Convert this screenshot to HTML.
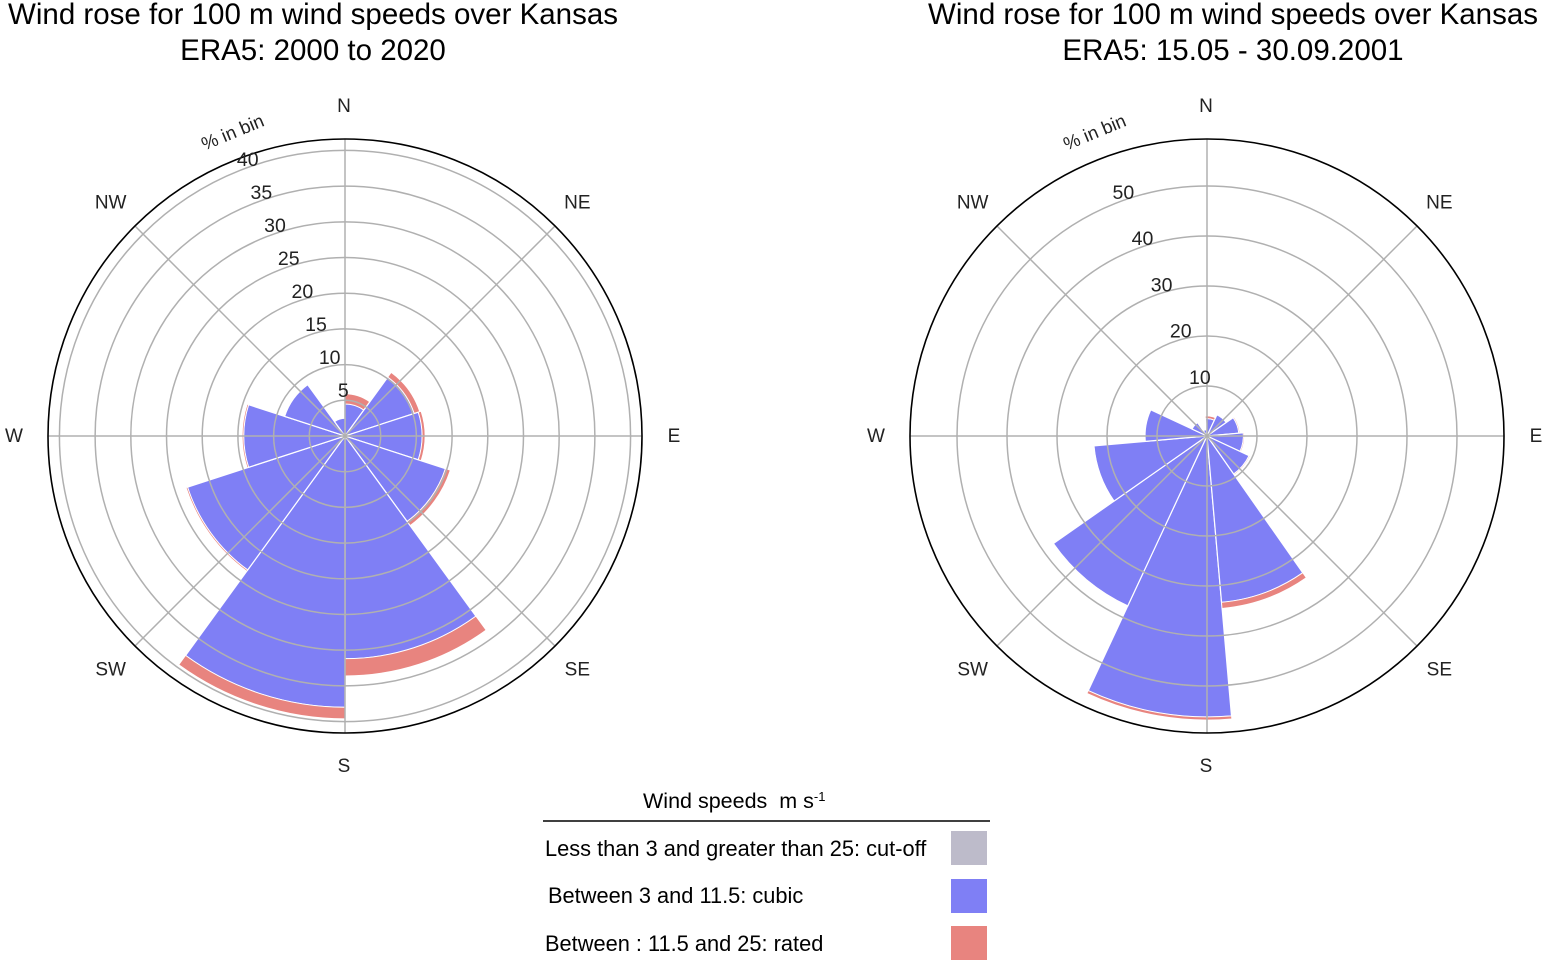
<!DOCTYPE html>
<html><head><meta charset="utf-8"><style>
html,body{margin:0;padding:0;background:#fff;}
svg{display:block;font-family:"Liberation Sans",sans-serif;}
</style></head><body>
<svg id="fig" width="1544" height="968" viewBox="0 0 1544 968">
<text x="313" y="24" font-size="29.5" text-anchor="middle">Wind rose for 100 m wind speeds over Kansas</text>
<text x="313" y="60" font-size="29.5" text-anchor="middle">ERA5: 2000 to 2020</text>
<text x="1233" y="24" font-size="29.5" text-anchor="middle">Wind rose for 100 m wind speeds over Kansas</text>
<text x="1233" y="60" font-size="29.5" text-anchor="middle">ERA5: 15.05 - 30.09.2001</text>
<g id="left"></g>
<g id="right"></g>
<g>
<text x="643" y="808" font-size="21.5">Wind speeds&#160; m s<tspan font-size="13" dy="-7">-1</tspan></text>
<line x1="543" y1="821" x2="990" y2="821" stroke="#000" stroke-width="1.5"/>
<text x="545" y="856" font-size="21.8">Less than 3 and greater than 25: cut-off</text>
<rect x="951" y="831" width="36" height="34" fill="#bdbbca"/>
<text x="548" y="903" font-size="21.8">Between 3 and 11.5: cubic</text>
<rect x="951" y="879" width="36" height="34" fill="#7f7ff5"/>
<text x="545" y="951" font-size="21.8">Between : 11.5 and 25: rated</text>
<rect x="951" y="926" width="36" height="34" fill="#e8847f"/>
</g>
</svg>
<script>
// Left chart data (10 bins, 36 deg, edges starting at 0 deg)
const leftBinStart = [0, 36, 72, 108, 144, 180, 216, 252, 288, 324];
const leftCutoff = [0.3, 0.3, 0.3, 0.3, 0.4, 0.4, 0.3, 0.3, 0.3, 0.3];
const leftCubic = [4.2, 9.9, 10.5, 14.5, 30.8, 37.6, 22.9, 13.9, 8.6, 2.2];
const leftRated = [1.4, 0.8, 0.4, 0.7, 2.4, 1.6, 0.2, 0.2, 0.1, 0.0];
const leftTicks = [5, 10, 15, 20, 25, 30, 35, 40];
const leftRmax = 41.6;
// Right chart data (12 bins, 30 deg, edges starting at 175 deg)
const rightBinStart = [175, 205, 235, 265, 295, 325, 355, 25, 55, 85, 115, 145];
const rightCutoff = [0.5, 0.4, 0.4, 0.3, 0.3, 0.3, 0.3, 0.3, 0.3, 0.3, 0.3, 0.4];
const rightCubic = [55.7, 37.1, 22.3, 12.1, 3.0, 1.0, 3.2, 4.4, 6.1, 7.0, 9.0, 33.0];
const rightRated = [0.6, 0.1, 0.1, 0.0, 0.0, 0.0, 0.5, 0.1, 0.2, 0.2, 0.2, 1.2];
const rightTicks = [10, 20, 30, 40, 50];
const rightRmax = 59.4;
const dirLabels = ['N','NE','E','SE','S','SW','W','NW'];

const NS = 'http://www.w3.org/2000/svg';
function mk(tag, attrs, parent){
  const e = document.createElementNS(NS, tag);
  for (const k in attrs) e.setAttribute(k, attrs[k]);
  parent.appendChild(e);
  return e;
}
function drawRose(g, cx, cy, R, rmax, starts, width, cut, cub, rat, ticks, side){
  const rs = v => v / rmax * R;
  const pt = (deg, r) => [cx + r*Math.sin(deg*Math.PI/180), cy - r*Math.cos(deg*Math.PI/180)];
  function wedge(a0, a1, r0, r1){
    const p1 = pt(a0, r1), p2 = pt(a1, r1), p3 = pt(a1, r0), p4 = pt(a0, r0);
    return `M${p4[0]},${p4[1]} L${p1[0]},${p1[1]} A${r1},${r1} 0 0 1 ${p2[0]},${p2[1]} L${p3[0]},${p3[1]} A${r0},${r0} 0 0 0 ${p4[0]},${p4[1]} Z`;
  }
  for (let i = 0; i < starts.length; i++){
    const a0 = starts[i], a1 = starts[i] + width;
    const v0 = cut[i], v1 = v0 + cub[i], v2 = v1 + rat[i];
    let p = mk('path', {d: wedge(a0, a1, 0, rs(v0)), fill:'#bdbbca', stroke:'#fff', 'stroke-width':1}, g);
    
    
    p = mk('path', {d: wedge(a0, a1, rs(v0), rs(v1)), fill:'#7f7ff5', stroke:'#fff', 'stroke-width':1.2}, g);
    
    
    if (rat[i] > 0){
      p = mk('path', {d: wedge(a0, a1, rs(v1), rs(v2)), fill:'#e8847f', stroke:'#fff', 'stroke-width':0.8}, g);
      
      
    }
  }
  ticks.forEach(t => {
    const c = mk('circle', {cx, cy, r: rs(t), fill:'none', stroke:'#b0b0b0', 'stroke-width':1.5}, g);
    
    
  });
  for (let k = 0; k < 8; k++){
    const q = pt(k*45, R);
    const l = mk('line', {x1: cx, y1: cy, x2: q[0], y2: q[1], stroke:'#b0b0b0', 'stroke-width':1.5}, g);
    
    
    const lp = pt(k*45, R + 33);
    const tx = mk('text', {x: lp[0] - 1, y: lp[1] + 6, 'font-size': 19, 'text-anchor':'middle', fill:'#222'}, g);
    tx.textContent = dirLabels[k];
    
    
  }
  const oc = mk('circle', {cx, cy, r: R, fill:'none', stroke:'#000', 'stroke-width':1.6}, g);
  
  
  ticks.forEach(t => {
    const lp = pt(337.5, rs(t));
    const tx = mk('text', {x: lp[0] + 12, y: lp[1] - 6, 'font-size': 19.5, 'text-anchor':'middle', fill:'#222'}, g);
    tx.textContent = t;
    
    
  });
  const ax = cx - 110, ay = cy - 298;
  const at = mk('text', {x: ax, y: ay, 'font-size': 18.5, 'text-anchor':'middle', fill:'#222', transform:`rotate(-22.5 ${ax} ${ay})`}, g);
  at.textContent = '% in bin';
  
  
}
drawRose(document.getElementById('left'), 345, 436, 297, leftRmax, leftBinStart, 36, leftCutoff, leftCubic, leftRated, leftTicks, 'left');
drawRose(document.getElementById('right'), 1207, 436, 297, rightRmax, rightBinStart, 30, rightCutoff, rightCubic, rightRated, rightTicks, 'right');
</script>
</body></html>
